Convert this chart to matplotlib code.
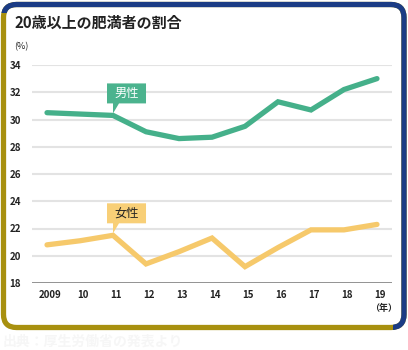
import matplotlib
matplotlib.use("Agg")
import matplotlib.pyplot as plt
import matplotlib.transforms as mtransforms
from matplotlib.patches import FancyBboxPatch, Polygon

plt.rcParams['font.family'] = ['Noto Sans CJK JP', 'DejaVu Sans']

# data
years = ["2009", "10", "11", "12", "13", "14", "15", "16", "17", "18", "19"]
male = [30.5, 30.4, 30.3, 29.1, 28.6, 28.7, 29.5, 31.3, 30.7, 32.2, 33.0]
female = [20.8, 21.1, 21.5, 19.4, 20.3, 21.3, 19.2, 20.6, 21.9, 21.9, 22.3]
yticks = [18, 20, 22, 24, 26, 28, 30, 32, 34]

green = '#45b08a'
yellow = '#f6c96b'
gold = '#a8900f'
navy = '#1b3c85'

W, H = 408, 350
fig = plt.figure(figsize=(W / 100, H / 100), dpi=100)


def px(x, y):
    # pixel coords (y down) -> figure fraction
    return x / W, 1 - y / H


# frame: gold left/bottom, navy top/right
x0, y0 = px(3.5, 327.5)
x1, y1 = px(404, 4.5)
frame_gold = FancyBboxPatch((x0, y0), x1 - x0, y1 - y0,
                            boxstyle="round,pad=0,rounding_size=0.032",
                            transform=fig.transFigure, fc='none', ec=gold,
                            lw=3.8, mutation_aspect=W / H, zorder=10)
fig.patches.append(frame_gold)
frame_navy = FancyBboxPatch((x0, y0), x1 - x0, y1 - y0,
                            boxstyle="round,pad=0,rounding_size=0.032",
                            transform=fig.transFigure, fc='none', ec=navy,
                            lw=3.8, mutation_aspect=W / H, zorder=11)
clip = Polygon([px(-5, -5), px(415, -5), px(415, 360), px(393, 360),
                px(393, 316), px(9, 316), px(9, 13), px(-5, 13)],
               closed=True, transform=fig.transFigure)
frame_navy.set_clip_path(clip)
fig.patches.append(frame_navy)

ax = fig.add_axes([32 / W, 1 - 283 / H, 360 / W, 218 / H])
ax.set_facecolor('none')
x = list(range(len(years)))

for t in yticks[1:]:
    ax.axhline(t, color='#e3e3e3', lw=1.5, zorder=1)
ax.axhline(18, color='#8a8a8a', lw=1.3, zorder=2)

ax.plot(x, male, color=green, lw=3.8, solid_capstyle='round',
        solid_joinstyle='miter', zorder=3)
ax.plot(x, female, color=yellow, lw=3.8, solid_capstyle='round',
        solid_joinstyle='miter', zorder=3)

ax.set_xlim(-0.455, 10.455)
ax.set_ylim(18, 34)
ax.set_yticks(yticks)
ax.set_xticks(x)
ax.set_xticklabels(years)
for s in ax.spines.values():
    s.set_visible(False)
ax.tick_params(length=0, labelsize=7, colors='#222222')
ax.tick_params(axis='y', pad=8)
ax.tick_params(axis='x', pad=5)
for lab in ax.get_xticklabels() + ax.get_yticklabels():
    lab.set_fontweight('bold')
offset = mtransforms.ScaledTranslation(3 / 100, 0, fig.dpi_scale_trans)
for lab in ax.get_xticklabels():
    lab.set_transform(lab.get_transform() + offset)


# callout labels pointing at 2011
def callout(text, value, fc, tc):
    tip = ax.transData.transform((2, value))
    tipx, tipy = tip[0], H - tip[1]
    bx0, bx1 = tipx - 6, tipx + 33
    by1 = tipy - 12
    by0 = by1 - 20
    box = Polygon([px(bx0, by0), px(bx1, by0), px(bx1, by1),
                   px(tipx + 6, by1), px(tipx, tipy - 2), px(tipx, by1),
                   px(bx0, by1)], closed=True, transform=fig.transFigure,
                  fc=fc, ec='none', zorder=5)
    fig.patches.append(box)
    cx, cy = px((bx0 + bx1) / 2, (by0 + by1) / 2)
    fig.text(cx, cy, text, color=tc, fontsize=8.8, ha='center', va='center',
             zorder=6)


callout("男性", male[2], '#4bb38e', 'white')
callout("女性", female[2], '#f8cf77', '#222222')

tx, ty = px(14, 23)
fig.text(tx, ty, "20歳以上の肥満者の割合", fontsize=10.8, fontweight='bold',
         ha='left', va='center', color='#222222')
tx, ty = px(14, 47)
fig.text(tx, ty, "(%)", fontsize=6.5, ha='left', va='center', color='#222222')
tx, ty = px(384, 308)
fig.text(tx, ty, "（年）", fontsize=6.5, fontweight='bold', ha='center',
         va='center', color='#222222')
tx, ty = px(3, 342)
fig.text(tx, ty, "出典：厚生労働省の発表より", fontsize=10, ha='left',
         va='center', color='#f6f6f6', fontweight='bold')

fig.savefig("out.png", dpi=100)
